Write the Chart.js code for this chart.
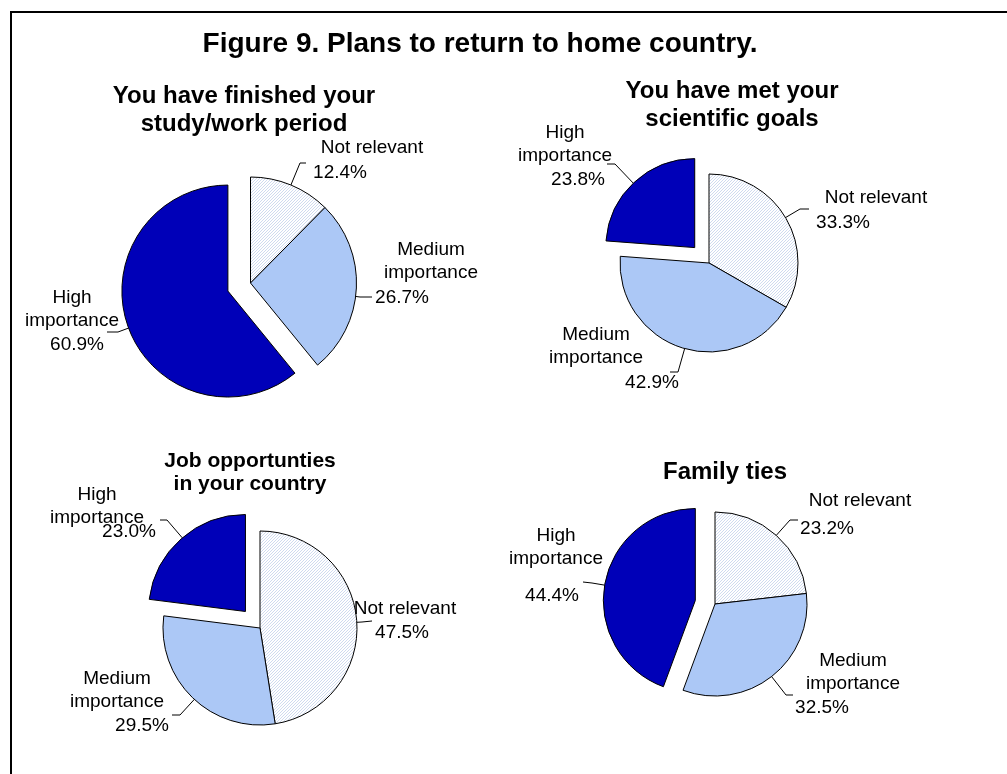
<!DOCTYPE html>
<html>
<head>
<meta charset="utf-8">
<script src="https://cdn.jsdelivr.net/npm/chart.js@4.4.1/dist/chart.umd.min.js"></script>
<style>
  html, body { margin: 0; padding: 0; background: #fff; overflow: hidden; }
  #stage { position: relative; width: 1007px; height: 774px; overflow: hidden; background: #fff; }
  #stage canvas { position: absolute; left: 0; top: 0; }
  #frame { position: absolute; left: 10px; top: 11px; width: 1200px; height: 1000px;
           border-left: 2px solid #000; border-top: 2px solid #000; box-sizing: border-box; }
</style>
</head>
<body>
<div id="stage">
  <div id="frame"></div>
  <canvas id="pie0" width="1007" height="774"></canvas>
  <canvas id="pie1" width="1007" height="774"></canvas>
  <canvas id="pie2" width="1007" height="774"></canvas>
  <canvas id="pie3" width="1007" height="774"></canvas>
</div>
<script>
// ---- data ----
const figureTitle = 'Figure 9. Plans to return to home country.';
const categories = [['Not relevant'], ['Medium', 'importance'], ['High', 'importance']];
const finishedPeriod   = [12.4, 26.7, 60.9];
const scientificGoals  = [33.3, 42.9, 23.8];
const jobOpportunities = [47.5, 29.5, 23.0];
const familyTies       = [23.2, 32.5, 44.4];
const pieTitles = [
  ['You have finished your', 'study/work period'],
  ['You have met your', 'scientific goals'],
  ['Job opportunties', 'in your country'],
  ['Family ties']
];

// ---- page layout and styles ----
const W = 1007, H = 774;
const FONT = "'Liberation Sans', Arial, Helvetica, sans-serif";

function hatchPattern() {
  const c = document.createElement('canvas');
  c.width = 3; c.height = 3;
  const g = c.getContext('2d');
  g.fillStyle = '#ffffff';
  g.fillRect(0, 0, 3, 3);
  g.fillStyle = '#cfdaef';
  for (let i = 0; i < 3; i++) g.fillRect(i, 2 - i, 1, 1);
  return g.createPattern(c, 'repeat');
}
const sliceColours = [hatchPattern(), '#acc8f6', '#0000b8'];

const panels = [
  { id: 'pie0', values: finishedPeriod, title: pieTitles[0], titleSize: 24, titleX: 244, titleY: [96, 124],
    cx: 250.5, cy: 283, r: 106, explode: [0, 0, 24],
    labels: [
      { name: [372, 148], pct: [340, 173], elbow: [300, 163], end: [306, 163] },
      { name: [431, 250], pct: [402, 298], elbow: [360, 297], end: [372, 297] },
      { name: [72, 298],  pct: [77, 345],  elbow: [118, 332], end: [107, 332] }
    ] },
  { id: 'pie1', values: scientificGoals, title: pieTitles[1], titleSize: 24, titleX: 732, titleY: [91, 119],
    cx: 709, cy: 263, r: 89, explode: [0, 0, 21],
    labels: [
      { name: [876, 198], pct: [843, 223], elbow: [800, 209], end: [809, 209] },
      { name: [596, 335], pct: [652, 383], elbow: [678, 372], end: [670, 372] },
      { name: [565, 133], pct: [578, 180], elbow: [615, 164], end: [607, 164] }
    ] },
  { id: 'pie2', values: jobOpportunities, title: pieTitles[2], titleSize: 21, titleX: 250, titleY: [461, 484],
    cx: 260, cy: 628, r: 97, explode: [0, 0, 22],
    labels: [
      { name: [405, 609], pct: [402, 633], elbow: [362, 622], end: [372, 621] },
      { name: [117, 679], pct: [142, 726], elbow: [180, 715], end: [172, 715] },
      { name: [97, 495],  pct: [129, 532], elbow: [167, 520], end: [160, 520] }
    ] },
  { id: 'pie3', values: familyTies, title: pieTitles[3], titleSize: 24, titleX: 725, titleY: [472],
    cx: 715, cy: 604, r: 92, explode: [0, 0, 20],
    labels: [
      { name: [860, 501], pct: [827, 529], elbow: [790, 520], end: [798, 520] },
      { name: [853, 661], pct: [822, 708], elbow: [786, 695], end: [793, 695] },
      { name: [556, 536], pct: [552, 596], elbow: [592, 583], end: [583, 582] }
    ] }
];

// Draws exploded slices, pie titles, leader lines and data labels.
const panelPlugin = {
  id: 'panel',
  beforeDatasetDraw(chart, args, opts) {
    const ctx = chart.ctx;
    args.meta.data.forEach((arc, i) => {
      const d = opts.explode[i] || 0;
      const mid = (arc.startAngle + arc.endAngle) / 2;
      ctx.save();
      ctx.translate(Math.cos(mid) * d, Math.sin(mid) * d);
      arc.draw(ctx, chart.chartArea);
      ctx.restore();
    });
    return false;
  },
  afterDatasetsDraw(chart, args, opts) {
    const ctx = chart.ctx;
    const meta = chart.getDatasetMeta(0);
    const values = chart.data.datasets[0].data;
    ctx.save();

    if (opts.heading) {
      ctx.font = `bold 28px ${FONT}`;
      ctx.fillStyle = '#000';
      ctx.textAlign = 'center';
      ctx.textBaseline = 'middle';
      ctx.fillText(opts.heading, 480, 44);
    }

    ctx.font = `bold ${opts.titleSize}px ${FONT}`;
    ctx.fillStyle = '#000';
    ctx.textAlign = 'center';
    ctx.textBaseline = 'middle';
    opts.title.forEach((t, k) => ctx.fillText(t, opts.titleX, opts.titleY[k]));

    meta.data.forEach((arc, i) => {
      const L = opts.labels[i];
      const d = opts.explode[i] || 0;
      const mid = (arc.startAngle + arc.endAngle) / 2;
      const ox = arc.x + Math.cos(mid) * d;
      const oy = arc.y + Math.sin(mid) * d;
      const s = arc.startAngle, e = arc.endAngle, TAU = Math.PI * 2;
      let a = Math.atan2(L.elbow[1] - oy, L.elbow[0] - ox);
      while (a < s) a += TAU;
      while (a >= s + TAU) a -= TAU;
      if (a > e) a = (a - e < s + TAU - a) ? e : s;
      const sx = ox + Math.cos(a) * arc.outerRadius;
      const sy = oy + Math.sin(a) * arc.outerRadius;

      ctx.strokeStyle = '#000';
      ctx.lineWidth = 1;
      ctx.beginPath();
      ctx.moveTo(sx, sy);
      ctx.lineTo(L.elbow[0], L.elbow[1]);
      ctx.lineTo(L.end[0], L.end[1]);
      ctx.stroke();

      ctx.font = `19px ${FONT}`;
      ctx.fillStyle = '#000';
      ctx.textAlign = 'center';
      ctx.textBaseline = 'middle';
      const lines = chart.data.labels[i];
      lines.forEach((t, k) => ctx.fillText(t, L.name[0], L.name[1] + k * 23));
      ctx.fillText(values[i].toFixed(1) + '%', L.pct[0], L.pct[1]);
    });
    ctx.restore();
  }
};

panels.forEach((p, idx) => {
  const s = Math.min(p.cx, W - p.cx, p.cy, H - p.cy) - 1;
  new Chart(document.getElementById(p.id), {
    type: 'pie',
    data: {
      labels: categories,
      datasets: [{
        data: p.values,
        backgroundColor: sliceColours,
        borderColor: '#000',
        borderWidth: 1,
        radius: p.r
      }]
    },
    options: {
      responsive: false,
      animation: false,
      devicePixelRatio: 1,
      events: [],
      layout: { padding: { left: p.cx - s, right: W - p.cx - s, top: p.cy - s, bottom: H - p.cy - s } },
      plugins: {
        legend: { display: false },
        tooltip: { enabled: false },
        panel: {
          heading: idx === 0 ? figureTitle : null,
          title: p.title, titleSize: p.titleSize, titleX: p.titleX, titleY: p.titleY,
          explode: p.explode, labels: p.labels
        }
      }
    },
    plugins: [panelPlugin]
  });
});
</script>
</body>
</html>
